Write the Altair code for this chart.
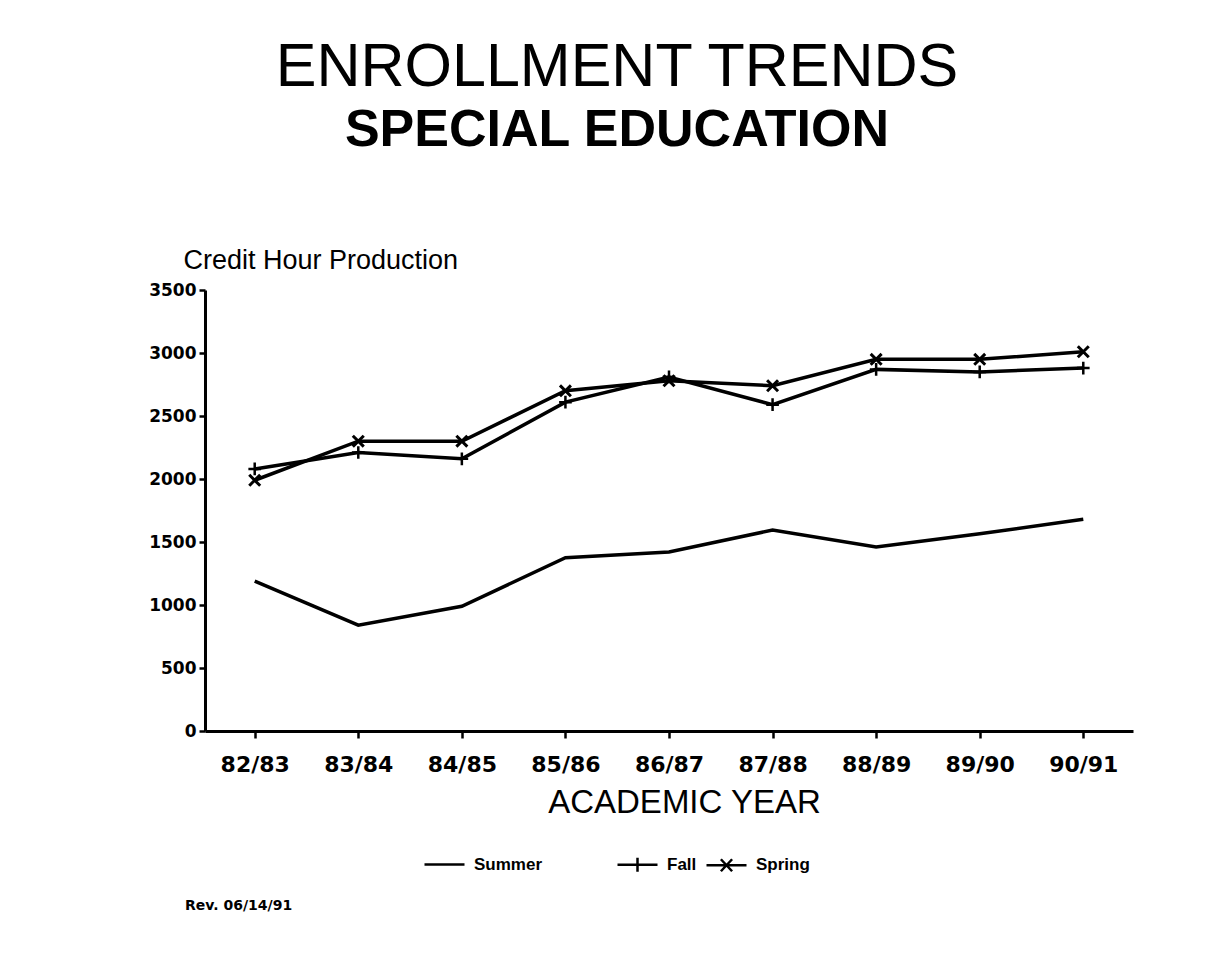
import altair as alt
import pandas as pd

years = ["82/83", "83/84", "84/85", "85/86", "86/87", "87/88", "88/89", "89/90", "90/91"]
summer = [1190, 840, 990, 1375, 1420, 1595, 1460, 1565, 1680]
fall = [2080, 2210, 2160, 2610, 2810, 2590, 2870, 2850, 2880]
spring = [1990, 2300, 2300, 2700, 2780, 2740, 2950, 2950, 3010]
series_names = ["Summer", "Fall", "Spring"]
y_ticks = [0, 500, 1000, 1500, 2000, 2500, 3000, 3500]
note = ["Rev. 06/14/91"]

rows = []
for name, vals in zip(series_names, [summer, fall, spring]):
    for yr, v in zip(years, vals):
        rows.append({"year": yr, "series": name, "value": v})
df = pd.DataFrame(rows)

W, H = 928, 441

PLUS = "M0,-1V1M-1,0H1"
CROSS = "M-1,-1L1,1M-1,1L1,-1"
LEG_SUM = "M-1,0H1"
LEG_FALL = "M-1,0H1M0,-0.35V0.35"
LEG_SPR = "M-1,0H1M-0.28,-0.3L0.28,0.3M-0.28,0.3L0.28,-0.3"

x = alt.X(
    "year:O", sort=years,
    scale=alt.Scale(type="point", padding=0.48),
    axis=alt.Axis(
        title="ACADEMIC YEAR", titleFont="Liberation Sans", titleFontSize=33,
        titleFontWeight="normal", titleColor="black", titleX=479, titleY=71,
        titleBaseline="middle", titleAlign="center",
        labelFont="DejaVu Sans", labelFontWeight="bold", labelFontSize=22,
        labelColor="black", labelPadding=16, labelAngle=0,
        tickSize=7, tickWidth=2.5, tickColor="black",
        domainColor="black", domainWidth=3, grid=False,
    ),
)
y = alt.Y(
    "value:Q",
    scale=alt.Scale(domain=[0, 3500], nice=False),
    axis=alt.Axis(
        values=y_ticks, format="d",
        title="Credit Hour Production", titleFont="Liberation Sans", titleFontSize=27,
        titleFontWeight="normal", titleColor="black", titleAngle=0, titleAlign="left",
        titleX=-22, titleY=-30, titleBaseline="middle",
        labelFont="DejaVu Sans", labelFontWeight="bold", labelFontSize=17,
        labelColor="black", labelPadding=3,
        tickSize=6, tickWidth=2.5, tickColor="black",
        domainColor="black", domainWidth=3, grid=False,
    ),
)

base = alt.Chart(df)

lines = base.mark_line(color="black", strokeWidth=3.5).encode(
    x=x, y=y, detail="series:N"
)

fall_pts = base.transform_filter("datum.series == 'Fall'").mark_point(
    shape=PLUS, size=160, color="black", strokeWidth=2.5, filled=False, opacity=1
).encode(x=x, y=y)

spring_pts = base.transform_filter("datum.series == 'Spring'").mark_point(
    shape=CROSS, size=120, color="black", strokeWidth=3, filled=False, opacity=1
).encode(x=x, y=y)


def legend_props(lx):
    return dict(
        title=None, orient="none", legendX=lx, legendY=553,
        direction="horizontal", labelFont="Liberation Sans", labelFontSize=17,
        labelFontWeight="bold", labelColor="black", symbolSize=1600,
        symbolStrokeWidth=2.5, symbolStrokeColor="black",
        symbolFillColor="transparent", columnPadding=4, labelOffset=8,
    )


legend_a = base.transform_filter("false").mark_point(
    color="black", filled=False, strokeWidth=2.5, opacity=1
).encode(
    x=x, y=y,
    shape=alt.Shape(
        "series:N",
        scale=alt.Scale(domain=series_names[:1], range=[LEG_SUM]),
        legend=alt.Legend(**legend_props(218)),
    ),
)

legend_b = base.transform_filter("false").mark_point(
    color="black", filled=False, strokeWidth=2.5, opacity=1
).encode(
    x=x, y=y,
    shape=alt.Shape(
        "series:N",
        scale=alt.Scale(domain=series_names[1:], range=[LEG_FALL, LEG_SPR]),
        legend=alt.Legend(**legend_props(411)),
    ),
)

rev = alt.Chart(pd.DataFrame({"note": note})).mark_text(
    align="left", baseline="middle", font="DejaVu Sans", fontWeight="bold",
    fontSize=14, color="black"
).encode(text="note:N", x=alt.value(-20), y=alt.value(616))

chart = alt.layer(lines, fall_pts, spring_pts, legend_a, legend_b, rev).resolve_scale(
    shape="independent"
).properties(
    width=W, height=H,
    padding={"left": 140, "top": 29, "right": 10, "bottom": 10},
    background="white",
    title=alt.TitleParams(
        text="ENROLLMENT TRENDS", subtitle="SPECIAL EDUCATION",
        font="Liberation Sans", fontSize=61, fontWeight="normal", color="black",
        subtitleFont="Liberation Sans", subtitleFontSize=52, subtitleFontWeight="bold",
        subtitleColor="black", subtitlePadding=6, anchor="middle", dx=-52, offset=89,
    ),
).configure_view(stroke=None)

chart.save("out.html", embed_options={"renderer": "svg", "actions": False})
